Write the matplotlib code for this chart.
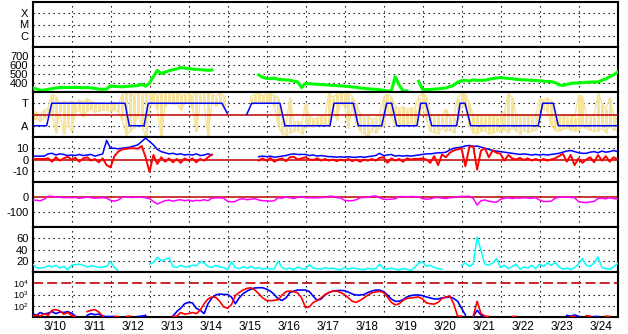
import numpy as np
import matplotlib
matplotlib.use('Agg')
import matplotlib.pyplot as plt
from matplotlib.ticker import FixedLocator, NullLocator

nan = np.nan

# time axis in days from 3/10 00:00, one sample every 0.1 day
t = np.arange(151) / 10
day_labels = ['3/10', '3/11', '3/12', '3/13', '3/14', '3/15', '3/16', '3/17',
              '3/18', '3/19', '3/20', '3/21', '3/22', '3/23', '3/24']

# panel 2 (green)
green = [345, 335, 318, 322, 330, 338, 345, 350, 352, 350,
         350, 352, 350, 348, 350, 346, 340, 332, 330, 332,
         370, 362, 360, 358, 362, 365, 368, 372, 385, 365,
         400, 470, 540, 505, 520, 535, 548, 556, 572, 565,
         560, 555, 552, 548, 545, 540, 545, nan, nan, nan,
         nan, nan, nan, nan, nan, nan, nan, nan, 490, 462,
         452, 448, 455, 440, 438, 435, 430, 420, 412, 350,
         395, 392, 388, 385, 382, 380, 378, 375, 372, 368,
         365, 360, 356, 352, 345, 340, 336, 332, 330, 325,
         318, 312, 308, 470, 380, 312, 314, nan, nan, 420,
         330, 325, 328, 330, 335, 340, 345, 360, 375, 410,
         425, 430, 420, 435, 430, 428, 432, 440, 450, 455,
         460, 455, 450, 448, 440, 438, 435, 432, 430, 428,
         425, 420, 418, 415, 405, 380, 372, 385, 395, 400,
         400, 405, 408, 410, 412, 410, 430, 445, 470, 490,
         520]

# panel 3: state line (A=1, T=3) and yellow spread
state_t = [0, 0.364, 0.492, 2.372, 2.482, 2.859, 2.969, 4.859, 4.995, 5.0,
           5.492, 5.621, 6.346, 6.474, 7.628, 7.731, 8.226, 8.354, 8.954, 9.082,
           9.210, 9.338, 9.859, 9.954, 10.09, 10.236, 10.877, 10.962, 11.09, 11.236,
           12.969, 13.082, 13.354, 13.482, 15.0]
state_v = [1, 1, 3, 3, 1, 1, 3, 3, 2.1, nan,
           2.0, 3, 3, 1, 1, 3, 3, 1, 1, 3,
           3, 1, 1, 3, 3, 1, 1, 3, 3, 1,
           1, 3, 3, 1, 1]
yellow_hi = [2.3, 2.2, 2.0, 2.4, 2.6, 3.8, 3.6, 3.0, 3.2, 3.0,
             3.2, 3.0, 3.3, 3.1, 3.4, 3.2, 3.0, 2.9, 3.0, 2.9,
             3.0, 3.1, 2.9, 3.8, 4.0, 3.9, 3.7, 4.0, 3.8, 3.9,
             3.8, 4.0, 3.7, 3.9, 4.0, 3.8, 3.9, 4.0, 3.7, 3.8,
             3.9, 3.7, 4.0, 3.8, 3.9, 4.0, 3.8, 3.6, 3.9, 3.7,
             nan, nan, nan, nan, nan, nan, 3.6, 3.8, 3.9, 3.7,
             3.8, 3.9, 3.7, 3.5, 1.5, 1.2, 3.5, 1.3, 1.4, 1.1,
             3.0, 1.8, 1.6, 1.7, 1.8, 1.9, 3.9, 3.5, 3.8, 3.9,
             3.8, 3.9, 3.6, 3.0, 2.1, 1.8, 2.0, 1.5, 1.7, 2.0,
             3.5, 3.8, 3.6, 2.8, 2.5, 2.7, 2.4, 2.6, 2.5, 3.6,
             3.9, 3.6, 2.0, 1.8, 2.0, 1.9, 2.5, 1.7, 1.8, 3.5,
             3.9, 3.8, 3.0, 1.9, 2.0, 1.8, 1.7, 2.0, 1.9, 1.8,
             2.0, 2.2, 3.9, 3.5, 2.0, 1.8, 1.9, 2.0, 1.7, 1.9,
             3.4, 3.3, 3.5, 3.2, 2.0, 1.8, 1.9, 1.7, 2.0, 1.8,
             3.7, 3.6, 2.0, 1.8, 1.9, 3.9, 3.0, 2.5, 3.5, 2.0,
             1.5]
yellow_lo = [1.5, 1.6, 1.4, 1.7, 1.8, 2.0, 0.4, 2.2, 0.3, 1.2,
             0.5, 2.2, 2.4, 1.8, 2.3, 2.5, 2.2, 2.3, 2.4, 2.4,
             2.3, 2.4, 2.2, 1.5, 0.2, 0.5, 0.8, 2.0, 1.0, 0.0,
             2.8, 3.0, 2.5, 0.0, 2.7, 3.1, 2.9, 3.0, 2.4, 3.0,
             3.0, 2.6, 0.5, 3.1, 2.9, 0.0, 3.0, 2.8, 3.1, 2.5,
             nan, nan, nan, nan, nan, nan, 2.9, 3.0, 3.2, 3.0,
             3.0, 3.1, 2.8, 1.0, 0.3, 0.2, 0.4, 0.5, 0.6, 0.3,
             0.9, 1.0, 0.9, 1.1, 1.0, 1.2, 1.0, 2.7, 1.5, 3.0,
             2.8, 0.8, 2.7, 1.2, 0.5, 0.3, 0.0, 0.6, 0.4, 0.8,
             1.0, 2.5, 1.8, 1.0, 1.2, 1.0, 1.1, 1.3, 1.0, 2.0,
             2.7, 1.5, 0.5, 0.4, 0.3, 0.8, 0.5, 0.6, 0.4, 1.5,
             2.7, 2.8, 1.0, 0.4, 0.3, 0.5, 0.6, 0.3, 0.4, 0.5,
             0.5, 0.6, 0.4, 0.8, 0.5, 0.3, 0.6, 0.4, 0.5, 0.6,
             2.4, 2.5, 2.3, 1.0, 0.6, 0.5, 0.7, 0.8, 0.6, 0.5,
             0.6, 1.0, 0.7, 0.6, 0.5, 0.5, 0.8, 0.4, 1.0, 0.6,
             0.6]

# panel 4 (blue / red)
blue4 = [3, 3, 3, 3, 5, 5.5, 4, 5, 4.5, 3.5,
         4, 3.5, 4.5, 3.5, 4, 4.5, 3, 4, 5, 17,
         10, 10, 9.5, 10, 10.5, 11, 12, 13, 16, 19,
         16, 13, 9, 7, 6, 5, 5.5, 4.5, 5, 4,
         4.5, 4, 5, 3.5, 4, 5, 4, nan, nan, nan,
         nan, nan, nan, nan, nan, nan, nan, nan, 2.5, 3,
         2.5, 3, 2, 2.5, 3, 3.5, 4.5, 5, 4.5, 4.5,
         4.5, 3.5, 4, 3, 3.5, 3, 2.5, 2.5, 2, 2.5,
         2, 2.5, 2, 2, 2.5, 2, 2.5, 3, 3.5, 5.5,
         3.5, 4, 4.5, 3, 3.5, 3, 3.5, 3, 3.5, 4,
         4.5, 5, 5, 5.5, 6, 6, 6.5, 8.5, 10, 10.5,
         11, 12, 12.5, 11.5, 12, 11, 10, 9, 8, 7.5,
         7, 6.5, 6, 5.5, 5, 4.5, 5, 4.5, 4, 4.5,
         4, 4.5, 4, 4.5, 5, 5.5, 6.5, 7.5, 8, 7,
         6, 5.5, 5.5, 6.5, 7, 6, 7.5, 6.5, 7, 8,
         7]
red4 = [0.5, 0.5, 0.5, 0.5, 1, -2, 2, -1, 1, 2.5,
        0, 1.5, -2, 1, 2, -1, 0.5, -2.5, 1, -5,
        -7, 3, 7, 9, 9.5, 10, 10, 9.5, 12, 2,
        -11, 4, -4, 2, -2, 1, -2.5, 0.5, -3, 1,
        -1, 1, -2.5, 0.5, -1, 2, 4.5, nan, nan, nan,
        nan, nan, nan, nan, nan, nan, nan, nan, -1, 1,
        -1, 1.5, -2, 0, 1, -1.5, 2, 2.5, 0, 1,
        2, 0, -0.5, 1, -1, 0.5, -1, 0, -1.5, 0,
        -1, 0.5, -1.5, 0, -2, 0, -1, 0.5, -1, 1.5,
        2, -3, 1, -1, 0.5, -2, 1, 0, 0.5, 0.5,
        1, 0, -3, 3, -5, 4.5, 2, 6, 8, 9,
        10, -6, 11, 12, -9, 8, 10, 2, 8, 6,
        5, -1, 4, 1, 0, 1.5, -0.5, 1, -1, 0.5,
        -1, 0.5, -1, 0, 1, 3, 5, -2, 4, -5,
        1, -3, 0, 2, -2.5, 4, -1, 3, -2, 2,
        0]

# panel 5 (magenta)
magenta = [-20, -22, -25, -15, 5, 5, -2, 0, -5, -3,
           -5, -3, -8, -5, 0, -5, -8, -6, -4, -8,
           -22, -28, -20, -2, 0, -2, -3, 0, -2, -5,
           -10, -30, -47, -35, -25, -20, -28, -22, -18, -25,
           -20, -28, -22, -25, -18, -25, -8, -6, -5, -8,
           -28, -32, -30, -15, -12, -18, -15, -10, -20, -25,
           -25, -28, -25, -5, -8, 0, -5, -10, -2, 3,
           -5, -5, -6, -5, -4, -3, 5, 5, -5, -6,
           -22, -25, -25, -18, -5, -3, -2, 5, 7, -5,
           -15, -16, -14, -12, 2, 3, 0, 4, 2, 0,
           -10, -15, -12, -5, -2, -8, -10, -5, -3, 0,
           5, 4, 5, -10, -53, -25, -20, -28, -32, -35,
           -15, -8, -5, -10, -6, -8, -5, -7, -8, -5,
           -20, -30, -30, -28, -8, -2, 0, 0, -3, -5,
           -30, -35, -37, -32, -30, -10, -8, -12, -5, -10,
           -15]

# panel 6 (cyan)
cyan = [14, 8, 7, 8, 11, 9, 12, 7, 10, 4,
        12, 13, 14, 12, 9, 11, 10, 8, 9, 10,
        19, 8, 2, nan, nan, nan, nan, nan, nan, nan,
        14, 17, 26, 20, 22, 25, 10, 8, 12, 9,
        10, 12, 11, 18, 16, 10, 8, 12, 9, 8,
        4, 18, 8, 6, 9, 7, 10, 6, 8, 5,
        7, 5, 6, 19, 8, 5, 7, 4, 9, 6,
        5, 13, 7, 6, 5, 8, 6, 7, 5, 4,
        8, 5, 7, 6, 5, 4, 7, 5, 6, 14,
        6, 5, 7, 5, 4, 6, 5, 3, 8, 16,
        18, 10, 12, 8, 6, 5, nan, nan, nan, nan,
        12, 16, 10, 14, 62, 38, 14, 12, 16, 24,
        8, 12, 6, 10, 14, 5, 9, 7, 12, 6,
        14, 10, 16, 12, 17, 9, 5, 7, 4, 8,
        14, 24, 12, 10, 16, 27, 8, 6, 5, 9,
        15]

# panel 7 (log, red / blue)
red7 = [12, 15, 12, 20, 14, 40, 45, 35, 18, 25,
        14, 11, nan, nan, 30, 40, 45, 28, 12, nan,
        nan, 11, 11, nan, 11, 12, nan, nan, nan, nan,
        nan, nan, nan, nan, nan, nan, 11, 12, 25, 18,
        20, 25, 20, 40, 150, 400, 600, 550, 250, 80,
        60, 120, 800, 1500, 2500, 3500, 4000, 2500, 1200, 500,
        300, 280, 300, 350, 900, 1800, 2000, 1800, 1400, 500,
        70, 80, 200, 300, 500, 1000, 1500, 2000, 2000, 1500,
        1000, 500, 250, 200, 300, 500, 900, 1400, 1700, 1900,
        1500, 600, 200, 120, 150, 300, 450, 500, 550, 600,
        400, 180, 150, 140, 200, 450, 600, 750, 150, 12,
        12, nan, nan, 11, 250, 20, 12, 11, nan, nan,
        nan, nan, nan, 11, 11, nan, nan, nan, nan, nan,
        nan, nan, nan, nan, nan, nan, nan, nan, 11, 11,
        nan, nan, 13, 12, nan, nan, nan, 12, 11, nan,
        nan]
blue7 = [20, 14, 25, 18, 22, 30, 20, 28, 25, 30,
         22, 12, nan, nan, 14, 20, 16, 18, 12, 11,
         11, 11, nan, nan, nan, nan, nan, 11, 12, 14,
         nan, nan, nan, nan, nan, nan, 12, 30, 60, 150,
         200, 180, 60, 40, 20, 150, 500, 900, 1100, 1000,
         1000, 600, 150, 500, 1200, 2000, 3000, 3800, 4000, 4000,
         3000, 2000, 1000, 400, 300, 500, 1500, 2000, 2500, 2500,
         2500, 1800, 700, 300, 400, 900, 1500, 2000, 2200, 2300,
         2200, 1600, 1100, 900, 900, 1000, 1500, 2000, 2500, 2500,
         1800, 900, 400, 250, 250, 350, 600, 800, 900, 900,
         800, 600, 500, 400, 400, 500, 550, 600, 450, 250,
         60, 15, nan, 11, 40, 15, 11, nan, nan, nan,
         nan, nan, nan, nan, nan, nan, nan, nan, nan, nan,
         nan, nan, nan, nan, nan, nan, nan, 14, 12, 15,
         12, nan, nan, nan, 11, 11, nan, nan, nan, nan,
         nan]

plt.rcParams['font.family'] = ['Liberation Sans', 'DejaVu Sans']
plt.rcParams['mathtext.default'] = 'regular'

W, H = 628, 334
left, right = 32.5, 617.5
tops = [2, 47, 92, 137, 182, 227, 272]
fig = plt.figure(figsize=(W / 100, H / 100), dpi=100)
fig.patch.set_facecolor('white')

dot = dict(color='black', lw=0.8, linestyle=(0, (1.2, 3.3)), zorder=1)
dkred = '#c00000'
axes = []
for top in tops:
    ax = fig.add_axes([left / W, 1 - (top + 45) / H, (right - left) / W, 45 / H])
    ax.set_xlim(0, 15)
    for s in ax.spines.values():
        s.set_linewidth(1.5)
    for d in range(1, 15):
        ax.axvline(d, **dot)
    ax.tick_params(length=0, labelsize=8, pad=3)
    ax.xaxis.set_major_locator(NullLocator())
    axes.append(ax)

# panel 1: empty X / M / C
ax = axes[0]
ax.set_ylim(0, 4)
for v in [1, 2, 3]:
    ax.axhline(v, **dot)
ax.set_yticks([1, 2, 3], ['C', 'M', 'X'])

# panel 2
ax = axes[1]
ax.set_ylim(300, 800)
for v in [400, 500, 600, 700]:
    ax.axhline(v, **dot)
ax.plot(t, green, color='#00ff00', lw=2.2, zorder=3)
ax.set_yticks([400, 500, 600, 700], ['400', '500', '600', '700'])

# panel 3
ax = axes[2]
ax.set_ylim(0, 4)
yel = '#f6e49e'
ax.vlines(t, yellow_lo, yellow_hi, color=yel, lw=2.2, zorder=2)
ax.plot(t, yellow_hi, color=yel, lw=1.0, zorder=2)
ax.plot(t, yellow_lo, color=yel, lw=1.0, zorder=2)
for v in [1, 3]:
    ax.axhline(v, **dot)
ax.axhline(2, color=dkred, lw=1.1, zorder=3)
ax.plot(state_t, state_v, color='#0000ff', lw=1.1, zorder=4)
ax.set_yticks([1, 3], ['A', 'T'])

# panel 4
ax = axes[3]
ax.set_ylim(-20, 20)
for v in [-10, 10]:
    ax.axhline(v, **dot)
ax.axhline(0, color=dkred, lw=1.1, zorder=2)
ax.plot(t, blue4, color='#0000ff', lw=1.1, zorder=3)
ax.plot(t, red4, color='#ff0000', lw=1.4, zorder=4)
ax.set_yticks([-10, 0, 10], ['-10', '0', '10'])

# panel 5
ax = axes[4]
ax.set_ylim(-200, 100)
ax.axhline(-100, **dot)
ax.axhline(0, color=dkred, lw=1.1, zorder=2)
ax.plot(t, magenta, color='#ff00ff', lw=1.1, zorder=3)
ax.set_yticks([-100, 0], ['-100', '0'])

# panel 6
ax = axes[5]
ax.set_ylim(0, 80)
for v in [20, 40, 60]:
    ax.axhline(v, **dot)
ax.plot(t, cyan, color='#00ffff', lw=1.1, zorder=3)
ax.set_yticks([20, 40, 60], ['20', '40', '60'])

# panel 7 (log)
ax = axes[6]
ax.set_yscale('log')
ax.set_ylim(10, 1e5)
for v in [100, 1000]:
    ax.axhline(v, **dot)
ax.axhline(1e4, color=dkred, lw=1.2, dashes=(6, 2.5), zorder=2)
ax.plot(t, blue7, color='#0000ff', lw=1.2, zorder=3)
ax.plot(t, red7, color='#ff0000', lw=1.2, zorder=4)
ax.yaxis.set_major_locator(FixedLocator([100, 1000, 10000]))
ax.yaxis.set_minor_locator(NullLocator())
ax.set_yticklabels(['$10^2$', '$10^3$', '$10^4$'], fontsize=6.6)
ax.xaxis.set_minor_locator(FixedLocator(np.arange(15) + 0.58))
ax.set_xticks(np.arange(15) + 0.58, day_labels, minor=True)
ax.tick_params(axis='x', which='minor', length=0, labelsize=8.5, pad=3)

fig.savefig('out.png', dpi=100, facecolor='white')
